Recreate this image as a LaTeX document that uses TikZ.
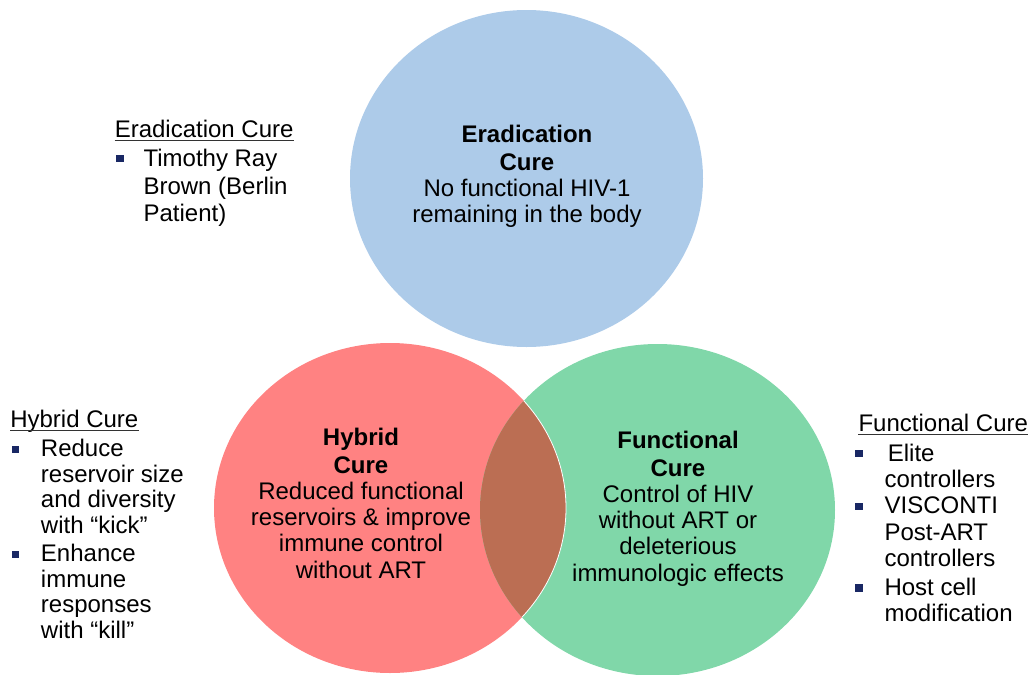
\documentclass[tikz,border=0pt]{standalone}
\usepackage{fontspec}
\setmainfont{Liberation Sans}

\definecolor{figErad}   {RGB}{173,203,233}
\definecolor{figHybrid} {RGB}{255,130,130}
\definecolor{figFunc}   {RGB}{128,215,169}
\definecolor{figOverlap}{RGB}{187,110,83}
\definecolor{figBullet} {RGB}{25,40,100}

\tikzset{
  cureText/.style={anchor=base, align=center, inner sep=0pt, font=\fontsize{18}{19.6}\selectfont},
  listHead/.style={anchor=base west, inner sep=0pt, font=\fontsize{18}{20}\selectfont},
  listItem/.style={anchor=base west, inner sep=0pt, align=left, font=\fontsize{18}{19.7}\selectfont},
  sqBullet/.style={fill=figBullet, inner sep=0pt, minimum size=5.5pt},
  headRule/.style={line width=1pt, black!80},
}

\begin{document}
\begin{tikzpicture}[x=0.75pt, y=-0.75pt]
        \useasboundingbox (0,0) rectangle (1033,675);
        % the three cure sets
        \fill[figErad](526.5,178.5) ellipse[x radius=176.5, y radius=168.5];
        \fill[figHybrid](390,508) ellipse[x radius=176, y radius=165];
        \fill[figFunc](657.5,510) ellipse[x radius=177.5, y radius=166];
        \begin{scope}
          \clip (390,508) ellipse[x radius=176, y radius=165];
          \fill[figOverlap](657.5,510) ellipse[x radius=177.5, y radius=166];
        \end{scope}
        \begin{scope}
          \clip (657.5,510) ellipse[x radius=177.5, y radius=166];
          \draw[white, line width=0.6pt](390,508) ellipse[x radius=176, y radius=165];
        \end{scope}

        % text inside the sets (placed by the last baseline)
        \node[cureText] (eradText) at (527,222.5)
              {\textbf{Eradication}\\[1.5pt]\textbf{Cure}\\No functional HIV-1\\remaining in the body};
        \node[cureText] (hybridText) at (361,578)
              {\textbf{Hybrid}\\[1.5pt]\textbf{Cure}\\Reduced functional\\reservoirs \& improve\\immune control\\without ART};
        \node[cureText] (funcText) at (678,581)
              {\textbf{Functional}\\[1.5pt]\textbf{Cure}\\Control of HIV\\without ART or\\deleterious\\immunologic effects};

        % side lists
        \node[listHead] (eradHead) at (114.5,137.3){Eradication Cure};
        \draw[headRule]([yshift=-2.2pt]eradHead.base west)--([yshift=-2.2pt]eradHead.base east);
        \node[sqBullet] (eradB1) at (120,158.8){};
        \node[listItem, font=\fontsize{18}{20.6}\selectfont] (eradI1) at (143.3,221.6)
              {Timothy Ray\\Brown (Berlin\\Patient)};

        \node[listHead] (hybridHead) at (10,427.3){Hybrid Cure};
        \draw[headRule]([yshift=-2.6pt]hybridHead.base west)--([yshift=-2.6pt]hybridHead.base east);
        \node[sqBullet] (hybridB1) at (15.5,449.5){};
        \node[listItem, font=\fontsize{18}{19.1}\selectfont] (hybridI1) at (40.7,533.1)
              {Reduce\\reservoir size\\and diversity\\with “kick”};
        \node[sqBullet] (hybridB2) at (15.5,554.5){};
        \node[listItem, font=\fontsize{18}{19.1}\selectfont] (hybridI2) at (40.7,638.1)
              {Enhance\\immune\\responses\\with “kill”};

        \node[listHead] (funcHead) at (858.3,431.7){Functional Cure};
        \draw[headRule]([yshift=-2.2pt]funcHead.base west)--([yshift=-2.2pt]funcHead.base east);
        \node[sqBullet] (funcB1) at (859,453.5){};
        \node[listItem] (funcI1) at (884.3,487.3)
              {\hspace{2.5pt}Elite\\controllers};
        \node[sqBullet] (funcB2) at (859,506.5){};
        \node[listItem] (funcI2) at (884.3,566.5)
              {VISCONTI\\Post-ART\\controllers};
        \node[sqBullet] (funcB3) at (859,588){};
        \node[listItem] (funcI3) at (884.3,621.3)
              {Host cell\\modification};
      \end{tikzpicture}
\end{document}
